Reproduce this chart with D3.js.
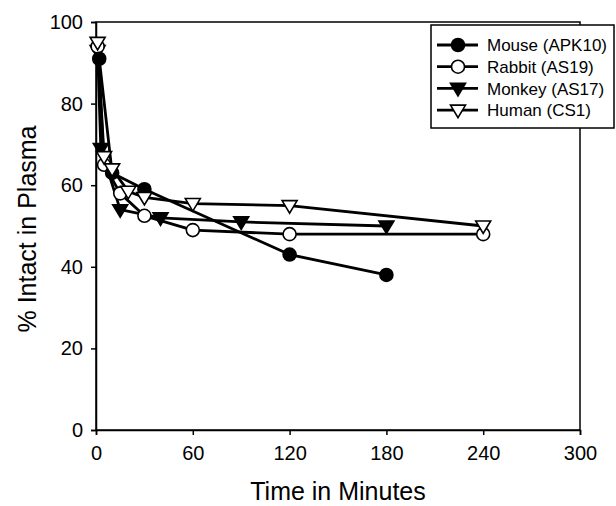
<!DOCTYPE html>
<html>
<head>
<meta charset="utf-8">
<script src="https://cdn.jsdelivr.net/npm/d3@7/dist/d3.min.js"></script>
<style>
  html, body { margin: 0; padding: 0; background: #fff; }
  svg { display: block; }
  text { font-family: "Liberation Sans", Arial, Helvetica, sans-serif; fill: #000; }
</style>
</head>
<body>
<svg id="chart" width="616" height="506"></svg>
<script>
// ---- data ----
const seriesNames = ["Mouse (APK10)", "Rabbit (AS19)", "Monkey (AS17)", "Human (CS1)"];
const markerTypes = ["filledCircle", "openCircle", "filledTriangle", "openTriangle"];
const mouseData  = [[2, 91], [10, 63], [30, 59], [120, 43], [180, 38]];
const rabbitData = [[1, 94], [5, 65], [15, 58], [30, 52.5], [60, 49], [120, 48], [240, 48]];
const monkeyData = [[1, 93], [3, 69], [15, 54], [40, 52], [90, 51], [180, 50]];
const humanData  = [[1, 95], [5, 67], [10, 64], [20, 58.5], [30, 57], [60, 55.5], [120, 55], [240, 50]];
const xTicks = [0, 60, 120, 180, 240, 300];
const yTicks = [0, 20, 40, 60, 80, 100];
const xTitle = "Time in Minutes";
const yTitle = "% Intact in Plasma";

const allData = [mouseData, rabbitData, monkeyData, humanData];
const markerOrder = [2, 1, 0, 3]; // monkey, rabbit, mouse, human (top)

// ---- layout ----
const svg = d3.select("#chart");
const pL = 96, pR = 580, pT = 22, pB = 430;
const x = d3.scaleLinear().domain([0, 300]).range([pL, pR]);
const y = d3.scaleLinear().domain([0, 100]).range([pB, pT]);

// frame
svg.append("rect").attr("x", pL).attr("y", pT)
  .attr("width", pR - pL).attr("height", pB - pT)
  .attr("fill", "none").attr("stroke", "#000").attr("stroke-width", 1.5);

// axes
const xAxis = svg.append("g").attr("transform", `translate(0,${pB})`)
  .call(d3.axisBottom(x).tickValues(xTicks).tickSize(5).tickPadding(11).tickFormat(d3.format("d")));
const yAxis = svg.append("g").attr("transform", `translate(${pL},0)`)
  .call(d3.axisLeft(y).tickValues(yTicks).tickSize(5).tickPadding(8).tickFormat(d3.format("d")));
[xAxis, yAxis].forEach(g => {
  g.select(".domain").attr("stroke", "#000").attr("stroke-width", 1.5);
  g.selectAll(".tick line").attr("stroke", "#000").attr("stroke-width", 1.5);
  g.selectAll(".tick text").attr("font-size", 20)
    .attr("font-family", "'Liberation Sans', Arial, sans-serif").attr("fill", "#000");
});

// titles
svg.append("text").attr("x", 338).attr("y", 500)
  .attr("text-anchor", "middle").attr("font-size", 25).text(xTitle);
svg.append("text").attr("transform", `translate(36,229) rotate(-90)`)
  .attr("text-anchor", "middle").attr("font-size", 25).text(yTitle);

// markers
function drawMarker(g, type, cx, cy) {
  if (type === "filledCircle" || type === "openCircle") {
    g.append("circle").attr("cx", cx).attr("cy", cy).attr("r", 6.5)
      .attr("fill", type === "filledCircle" ? "#000" : "#fff")
      .attr("stroke", "#000").attr("stroke-width", 1.6);
  } else {
    const w = 7.5, h = 12.5;
    const pts = [[cx - w, cy - h * 0.4], [cx + w, cy - h * 0.4], [cx, cy + h * 0.6]];
    g.append("polygon").attr("points", pts.map(p => p.join(",")).join(" "))
      .attr("fill", type === "filledTriangle" ? "#000" : "#fff")
      .attr("stroke", "#000").attr("stroke-width", 1.6).attr("stroke-linejoin", "miter");
  }
}

const line = d3.line().x(d => x(d[0])).y(d => y(d[1]));
const plot = svg.append("g");
allData.forEach((data, i) => {
  plot.append("path").datum(data).attr("d", line)
    .attr("fill", "none").attr("stroke", "#000").attr("stroke-width", 2.8)
    .attr("stroke-linejoin", "round");
});
markerOrder.forEach(i => {
  const g = plot.append("g");
  allData[i].forEach(d => drawMarker(g, markerTypes[i], x(d[0]), y(d[1])));
});

// legend
const lg = svg.append("g");
lg.append("rect").attr("x", 431).attr("y", 25).attr("width", 183).attr("height", 103)
  .attr("fill", "#fff").attr("stroke", "#000").attr("stroke-width", 1.5);
seriesNames.forEach((name, i) => {
  const ry = 45 + i * 21.7;
  lg.append("line").attr("x1", 437).attr("x2", 478).attr("y1", ry).attr("y2", ry)
    .attr("stroke", "#000").attr("stroke-width", 2.8);
  drawMarker(lg, markerTypes[i], 458, ry);
  lg.append("text").attr("x", 487).attr("y", ry).attr("dy", "0.36em")
    .attr("font-size", 17).text(name);
});
</script>
</body>
</html>
